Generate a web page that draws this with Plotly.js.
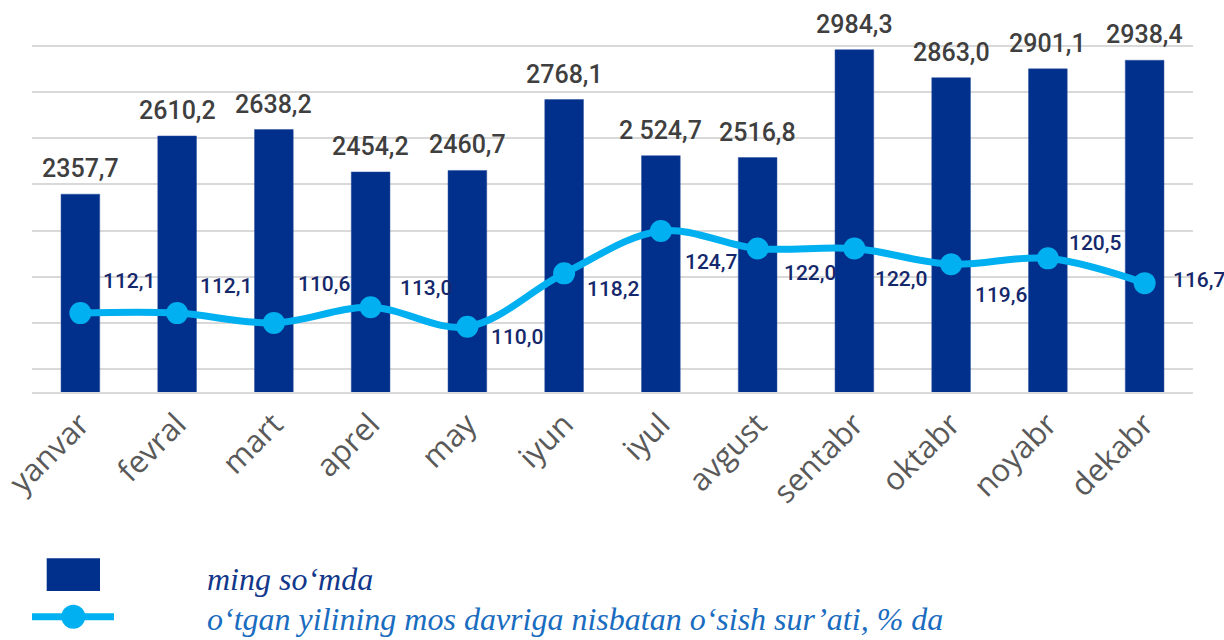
<!DOCTYPE html>
<html><head><meta charset="utf-8">
<script src="https://cdn.plot.ly/plotly-3.0.1.min.js"></script>
<style>html,body{margin:0;padding:0;background:#fff}#chart{width:1224px;height:640px}</style>
</head><body><div id="chart"></div>
<script>
const months = ['yanvar','fevral','mart','aprel','may','iyun','iyul','avgust','sentabr','oktabr','noyabr','dekabr'];
const wages = [2357.7,2610.2,2638.2,2454.2,2460.7,2768.1,2524.7,2516.8,2984.3,2863.0,2901.1,2938.4];
const wageLabels = ['2357,7','2610,2','2638,2','2454,2','2460,7','2768,1','2 524,7','2516,8','2984,3','2863,0','2901,1','2938,4'];
const growth = [112.1,112.1,110.6,113.0,110.0,118.2,124.7,122.0,122.0,119.6,120.5,116.7];
const growthLabels = ['112,1','112,1','110,6','113,0','110,0','118,2','124,7','122,0','122,0','119,6','120,5','116,7'];
const seriesNames = ['ming so‘mda','o‘tgan yilining mos davriga nisbatan o‘sish sur’ati, % da'];

// label placement offsets in pixels (style only)
const growthLabelDx = [49,49,51,55,50,49,51,52,47,50,48,55];
const growthLabelDy = [32,27,39,19,-10,-16,-31,-24,-30,-31,15,3];

const NAVY = '#00308C', CYAN = '#00B0F0';

const traces = [
  {type:'bar', x:months, y:wages, name:seriesNames[0], marker:{color:NAVY, line:{color:'#2F4FA0', width:0.5}}, hoverinfo:'x+y'},
  {type:'scatter', mode:'lines+markers', x:months, y:growth, yaxis:'y2', name:seriesNames[1],
   line:{color:CYAN, width:7, shape:'spline', smoothing:1}, marker:{color:CYAN, size:22}}
];

const annotations = [];
months.forEach((m,i)=>{
  annotations.push({x:m, y:wages[i], xref:'x', yref:'y', text:wageLabels[i], showarrow:false,
    xanchor:'center', yanchor:'bottom', yshift:9,
    font:{family:'Roboto, sans-serif', size:25, color:'#3F3F3F', weight:500}});
  annotations.push({x:m, y:growth[i], xref:'x', yref:'y2', text:growthLabels[i], showarrow:false,
    xanchor:'center', yanchor:'middle', xshift:growthLabelDx[i], yshift:growthLabelDy[i],
    font:{family:'Roboto, sans-serif', size:21, color:'#14286B', weight:500}});
});

// legend (custom)
const L = 32, R = 1193, T = 23, B = 392;
const px = v => (v - L)/(R - L);
const py = v => (B - v)/(B - T);
annotations.push({xref:'paper', yref:'paper', x:px(205), y:py(579), xanchor:'left', yanchor:'middle', showarrow:false,
  text:seriesNames[0], font:{family:'Liberation Serif, serif', size:32, style:'italic', color:'#12388C'}});
annotations.push({xref:'paper', yref:'paper', x:px(205), y:py(619), xanchor:'left', yanchor:'middle', showarrow:false,
  text:seriesNames[1], font:{family:'Liberation Serif, serif', size:32, style:'italic', color:'#1A6CBF'}});

const shapes = [
  {type:'rect', xref:'paper', yref:'paper', x0:px(46.7), x1:px(100), y0:py(558.3), y1:py(591), fillcolor:NAVY, line:{width:0}},
  {type:'line', xref:'paper', yref:'paper', x0:px(32), x1:px(114), y0:py(616.7), y1:py(616.7), line:{color:CYAN, width:7}},
  {type:'circle', xref:'paper', yref:'paper', x0:px(61.3), x1:px(85.3), y0:py(604.7), y1:py(628.7), fillcolor:CYAN, line:{width:0}}
];

const layout = {
  width:1224, height:640,
  margin:{l:L, r:1224-R, t:T, b:640-B, pad:0},
  paper_bgcolor:'#fff', plot_bgcolor:'#fff',
  showlegend:false,
  bargap:0.6,
  xaxis:{type:'category', range:[-0.5, 11.5], automargin:false, tickangle:-45,
    tickfont:{family:'Open Sans, sans-serif', size:31, color:'#595959'},
    showline:true, linecolor:'#D9D9D9', linewidth:1.5, ticks:'', showgrid:false, zeroline:false, fixedrange:true},
  yaxis:{range:[1500,3100], dtick:200, showgrid:true, gridcolor:'#D9D9D9', gridwidth:1.5, showticklabels:false,
    zeroline:false, showline:false, ticks:'', fixedrange:true, automargin:false},
  yaxis2:{overlaying:'y', side:'right', range:[100,156.6], showgrid:false, showticklabels:false, zeroline:false,
    showline:false, ticks:'', fixedrange:true, automargin:false},
  annotations, shapes
};

Plotly.newPlot('chart', traces, layout, {displayModeBar:false, responsive:false});
</script></body></html>
